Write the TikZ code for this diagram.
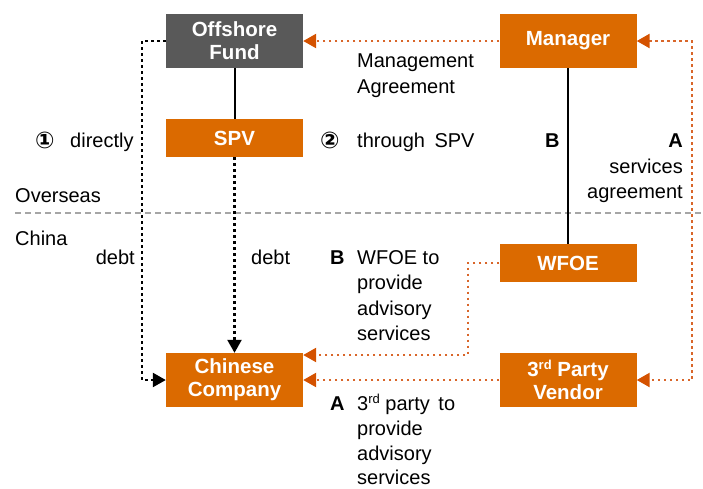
\documentclass[tikz,border=0pt]{standalone}
\usepackage{fontspec}
\setmainfont{Liberation Sans}
\newfontfamily\symfont{DejaVu Sans}
\usetikzlibrary{arrows.meta}
\definecolor{boxorange}{HTML}{DB6A00}
\definecolor{boxgray}{HTML}{595959}
\definecolor{lineorange}{HTML}{D9662A}
\definecolor{tiporange}{HTML}{D45200}
\definecolor{divgray}{HTML}{A6A6A6}
\tikzset{
  box/.style={fill=boxorange, text=white, minimum width=137pt, inner sep=0pt, align=center,
    font=\fontsize{20.5}{23}\selectfont\bfseries},
  tallbox/.style={box, minimum height=54pt},
  shortbox/.style={box, minimum height=38pt},
  solidlink/.style={draw=black, line width=2pt},
  blkdot/.style={draw=black, line width=2.4pt, dash pattern=on 2.4pt off 3.6pt,
    -{Triangle[length=13pt,width=14pt,color=black]}},
  orgdot/.style={draw=lineorange, line width=2.4pt, dash pattern=on 2.4pt off 3.6pt},
  otip/.style={-{Triangle[length=13pt,width=14pt,color=tiporange]}},
  lbl/.style={anchor=base west, inner sep=0pt, font=\fontsize{20}{25}\selectfont},
  lblr/.style={anchor=base east, inner sep=0pt, font=\fontsize{20}{25}\selectfont},
  bl/.style={anchor=base west, inner sep=0pt, font=\fontsize{20}{25}\selectfont\bfseries},
  circ/.style={anchor=base west, inner sep=0pt, font=\fontsize{23}{25}\selectfont\symfont\bfseries},
}
\begin{document}
\begin{tikzpicture}[x=1pt,y=-1pt]
\useasboundingbox (0,0) rectangle (703,488);

% divider
\draw[divgray, line width=1.3pt, dash pattern=on 6pt off 4pt] (15,213) -- (703,213);

% boxes
\node[tallbox, fill=boxgray] (off) at (234.5,41) {Offshore\\Fund};
\node[tallbox] (man) at (568,41) {Manager};
\node[shortbox] (spv) at (234.5,138) {SPV};
\node[shortbox] (wfoe) at (568,263) {WFOE};
\node[tallbox] (cc) at (234.5,380) {Chinese\\Company};
\node[tallbox] (ven) at (568,380) {3{\fontsize{13}{13}\selectfont\raisebox{7pt}{rd}} Party\\Vendor};

% coordinates
\coordinate (lc) at (142,380);
\coordinate (rc) at (692,380);
\coordinate (wc) at (468,355);

% connectors
\draw[solidlink] (off) -- (spv);
\draw[solidlink] (man) -- (wfoe);
\draw[blkdot] (spv) -- (cc);
\draw[blkdot] (off.west) -| (lc) -- (cc.west);
\draw[orgdot, otip] (man.west) -- (off.east);
\draw[orgdot, {Triangle[length=13pt,width=14pt,color=tiporange]}-{Triangle[length=13pt,width=14pt,color=tiporange]}] (man.east) -| (rc) -- (ven.east);
\draw[orgdot, otip] (wfoe.west) -| (wc) -- (wc -| cc.east);
\draw[orgdot, otip] (ven.west) -- (cc.east);

% labels
\node[lbl] (ma1) at (357,67) {Management};
\node[lbl] (ma2) at (357,93) {Agreement};
\node[circ] (c1) at (35,148) {①};
\node[lbl] (dir) at (70,147) {directly};
\node[circ] (c2) at (320,148) {②};
\node[lbl] (thr) at (357,147) {through\hspace{4pt} SPV};
\node[bl] (bB1) at (545,147) {B};
\node[anchor=base east, inner sep=0pt, font=\fontsize{20}{25}\selectfont\bfseries] (bA1) at (683,147) {A};
\node[lblr] (sa1) at (683,173) {services};
\node[lblr] (sa2) at (683,198) {agreement};
\node[lbl] (ovs) at (15,202) {Overseas};
\node[lbl] (chn) at (15,245) {China};
\node[lblr] (d1) at (135,264) {debt};
\node[lbl] (d2) at (251,264) {debt};
\node[bl] (bB2) at (330,264) {B};
\node[lbl] (w1) at (357,264) {WFOE to};
\node[lbl] (w2) at (357,289) {provide};
\node[lbl] (w3) at (357,315) {advisory};
\node[lbl] (w4) at (357,340) {services};
\node[bl] (bA2) at (330,410) {A};
\node[lbl] (t1) at (357,410) {3{\fontsize{13}{13}\selectfont\raisebox{7pt}{rd}} party\hspace{3pt} to};
\node[lbl] (t2) at (357,435) {provide};
\node[lbl] (t3) at (357,460) {advisory};
\node[lbl] (t4) at (357,484.5) {services};
\end{tikzpicture}
\end{document}
